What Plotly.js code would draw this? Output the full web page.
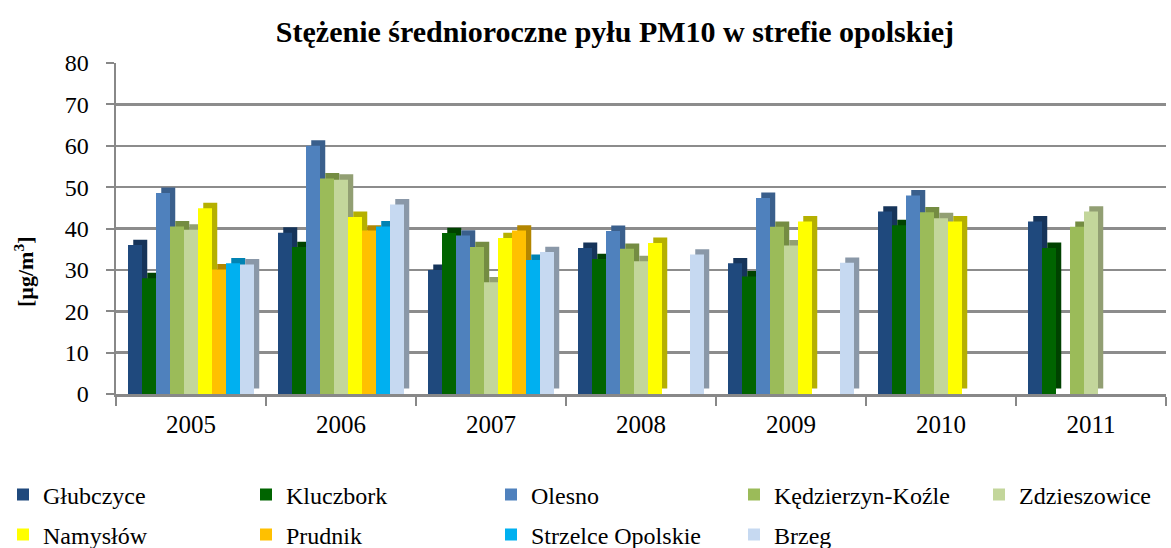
<!DOCTYPE html>
<html><head><meta charset="utf-8">
<script src="https://cdn.plot.ly/plotly-3.0.1.min.js"></script>
<style>html,body{margin:0;padding:0;background:#fff}#chart{width:1171px;height:548px}</style>
</head><body><div id="chart"></div>
<script>
const years = ['2005','2006','2007','2008','2009','2010','2011'];
const seriesNames = ['Głubczyce','Kluczbork','Olesno','Kędzierzyn-Koźle','Zdzieszowice','Namysłów','Prudnik','Strzelce Opolskie','Brzeg'];
const colors = ['#1F497D','#006400','#4F81BD','#9BBB59','#C3D69B','#FFFF00','#FFC000','#00B0F0','#C6D9F1'];
const sideColors = ['#16345A','#004200','#3A5F8C','#748C42','#929F73','#B5B000','#B38600','#0083B3','#8A98A8'];
const glubczyce = [36, 39, 30, 35.3, 31.6, 44.1, 41.7];
const kluczbork = [28, 35.5, 38.9, 32.6, 28.4, 40.8, 35.3];
const olesno = [48.6, 60, 38.3, 39.4, 47.4, 48, null];
const kedzierzyn = [40.5, 52.1, 35.5, 35.1, 40.4, 43.9, 40.4];
const zdzieszowice = [39.7, 51.8, 27, 32.1, 35.9, 42.5, 44.1];
const namyslow = [44.9, 42.8, 37.7, 36.5, 41.7, 41.7, null];
const prudnik = [30.1, 39.5, 39.5, null, null, null, null];
const strzelce = [31.6, 40.5, 32.4, null, null, null, null];
const brzeg = [31.3, 45.8, 34.3, 33.7, 31.7, null, null];
const values = [glubczyce, kluczbork, olesno, kedzierzyn, zdzieszowice, namyslow, prudnik, strzelce, brzeg];
const yTicks = [0,10,20,30,40,50,60,70,80];

const W = 1171, H = 548;
const serif = '"Liberation Serif", "Times New Roman", serif';
const nS = seriesNames.length;
const groupWidth = 0.84, barW = groupWidth / nS;
const depthX = 0.035;   // extrusion to the right (category units)
const depthY = 1.3;     // extrusion upward (value units)
const legendKeys = seriesNames.map((n,i)=> i===0 ? 'legend' : 'legend'+(i+1));

// extrusion (side/top faces) drawn first, behind the front faces
const sideTraces = seriesNames.map((n,i)=>({
  type:'bar', name:n+' (3D)', x:years, y:values[i], base:depthY,
  width:barW, offset:-groupWidth/2 + i*barW + depthX,
  marker:{color:sideColors[i]}, showlegend:false, hoverinfo:'skip'
}));
const frontTraces = seriesNames.map((n,i)=>({
  type:'bar', name:n, x:years, y:values[i],
  width:barW, offset:-groupWidth/2 + i*barW,
  marker:{color:colors[i]},
  legend: legendKeys[i],
  hoverinfo:'x+y+name'
}));

const colLeft = [3, 246, 491, 734, 979];
const rowMid = [495, 535];
const layout = {
  width:W, height:H,
  margin:{l:116, r:5, t:63, b:154},
  paper_bgcolor:'#fff', plot_bgcolor:'#fff',
  title:{text:'<b>Stężenie średnioroczne pyłu PM10 w strefie opolskiej</b>', font:{family:serif, size:30, color:'#000'},
    x:615/W, xanchor:'center', y:1-31/H, yanchor:'middle'},
  barmode:'overlay',
  xaxis:{type:'category', tickson:'boundaries', ticks:'outside', ticklen:9, tickwidth:2, tickcolor:'#888',
    showline:true, linecolor:'#888', linewidth:2.5, showgrid:false, ticklabelstandoff:6,
    tickfont:{family:serif, size:25, color:'#000'}},
  yaxis:{range:[0,80], tickvals:yTicks, ticks:'outside', ticklen:8, tickwidth:2, tickcolor:'#888',
    showline:true, linecolor:'#888', linewidth:2.5, gridcolor:'#8c8c8c', gridwidth:2.5, zeroline:false,
    ticklabelstandoff:12,
    tickfont:{family:serif, size:24, color:'#000'}},
  annotations:[{text:'<b>[µg/m<sup>3</sup>]</b>', textangle:-90, xref:'paper', yref:'paper',
    x:(24-116)/1050, y:(394-272)/331, xanchor:'center', yanchor:'middle', showarrow:false,
    font:{family:serif, size:22, color:'#000'}}],
  showlegend:true
};
legendKeys.forEach((k,i)=>{
  layout[k] = {orientation:'h', xref:'container', yref:'container',
    x:colLeft[i%5]/W, y:1-rowMid[Math.floor(i/5)]/H, xanchor:'left', yanchor:'middle',
    font:{family:serif, size:24, color:'#000'}, bgcolor:'rgba(0,0,0,0)', borderwidth:0};
});
Plotly.newPlot('chart', sideTraces.concat(frontTraces), layout, {displayModeBar:false, staticPlot:true});
</script></body></html>
